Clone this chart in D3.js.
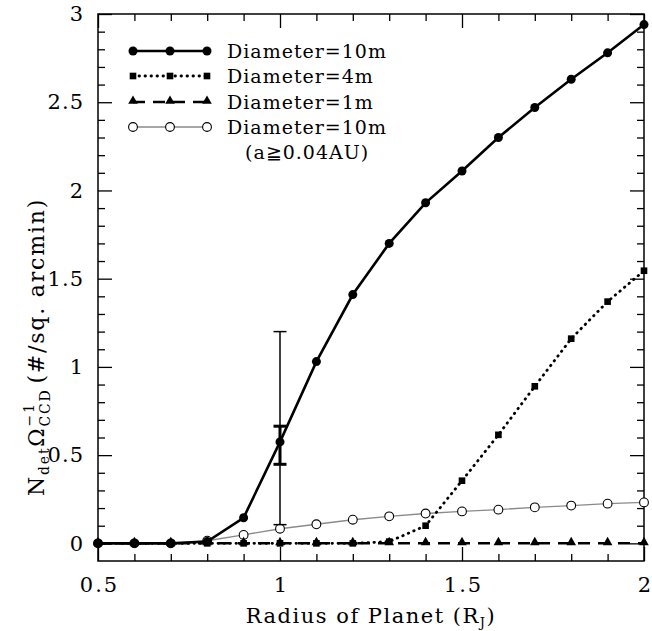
<!DOCTYPE html>
<html><head><meta charset="utf-8">
<script src="https://cdn.jsdelivr.net/npm/d3@7"></script>
<style>
html,body{margin:0;padding:0;background:#fff;}
svg text{font-family:"DejaVu Serif",serif;fill:#000;}
</style></head>
<body>
<svg id="chart" width="652" height="631"></svg>
<script>
const radius = [0.5,0.6,0.7,0.8,0.9,1.0,1.1,1.2,1.3,1.4,1.5,1.6,1.7,1.8,1.9,2.0];
const diam10 = [0,0,0,0.01,0.145,0.575,1.03,1.41,1.70,1.93,2.11,2.30,2.47,2.63,2.78,2.94];
const diam4 = [0,0,0,0,0,0,0,0,0.01,0.10,0.355,0.615,0.89,1.16,1.37,1.545];
const diam1 = [0,0,0,0,0,0,0,0,0,0,0,0,0,0,0,0];
const diam10a = [0,0,0,0.015,0.048,0.083,0.108,0.134,0.153,0.169,0.181,0.191,0.204,0.214,0.225,0.232];
const errX = [1.0, 1.0];
const errLow = [0.106, 0.448];
const errHigh = [1.20, 0.664];
const xTicks = [0.5, 1, 1.5, 2];
const yTicks = [0, 0.5, 1, 1.5, 2, 2.5, 3];
const legendLabels = ["Diameter=10m","Diameter=4m","Diameter=1m","Diameter=10m"];
const legendNote = "(a\u22670.04AU)";

const svg = d3.select("#chart");
const L = 98, R = 644, T = 14, B = 561;
const x = d3.scaleLinear().domain([0.5, 2]).range([L, R]);
const y = d3.scaleLinear().domain([-0.1, 3]).range([B, T]);

svg.append("rect").attr("x", L).attr("y", T).attr("width", R - L).attr("height", B - T)
  .attr("fill", "none").attr("stroke", "#000").attr("stroke-width", 1.5);

const isMajor = v => Math.abs(v * 2 - Math.round(v * 2)) < 1e-6;
const xMinor = d3.range(6, 20).map(d => d / 10).filter(v => !isMajor(v));
const yMinor = d3.range(0, 30).map(d => d / 10).filter(v => !isMajor(v));

function addAxis(axis, tr) {
  const g = svg.append("g").attr("transform", tr).call(axis);
  g.select(".domain").remove();
  g.selectAll("line").attr("stroke", "#000").attr("stroke-width", 1.3);
  return g;
}
const gx = addAxis(d3.axisBottom(x).tickValues(xTicks).tickSize(-14).tickPadding(16).tickFormat(d3.format("")), `translate(0,${B})`);
gx.selectAll("text").attr("font-size", 21).attr("font-family", "DejaVu Serif").attr("letter-spacing", 2).attr("dx", 1);
addAxis(d3.axisBottom(x).tickValues(xMinor).tickSize(-7).tickFormat(""), `translate(0,${B})`);
addAxis(d3.axisTop(x).tickValues(xTicks).tickSize(-14).tickFormat(""), `translate(0,${T})`);
addAxis(d3.axisTop(x).tickValues(xMinor).tickSize(-7).tickFormat(""), `translate(0,${T})`);
const gy = addAxis(d3.axisLeft(y).tickValues(yTicks).tickSize(-14).tickPadding(14).tickFormat(d3.format("")), `translate(${L},0)`);
gy.selectAll("text").attr("font-size", 21).attr("font-family", "DejaVu Serif").attr("letter-spacing", 1);
addAxis(d3.axisLeft(y).tickValues(yMinor).tickSize(-7).tickFormat(""), `translate(${L},0)`);
addAxis(d3.axisRight(y).tickValues(yTicks).tickSize(-14).tickFormat(""), `translate(${R},0)`);
addAxis(d3.axisRight(y).tickValues(yMinor).tickSize(-7).tickFormat(""), `translate(${R},0)`);

// x title
const xt = svg.append("text").attr("x", (L + R) / 2).attr("y", 623).attr("text-anchor", "middle")
  .attr("font-size", 21).attr("letter-spacing", 1.5);
xt.append("tspan").text("Radius of Planet (R");
xt.append("tspan").attr("font-size", 13).attr("dy", 4).text("J");
xt.append("tspan").attr("dy", -4).text(")");

// y title
const yt = svg.append("text").attr("transform", `translate(44,496) rotate(-90)`)
  .attr("text-anchor", "start").attr("font-size", 22).attr("letter-spacing", 1.8);
yt.append("tspan").text("N");
yt.append("tspan").attr("font-size", 14).attr("dy", 5).text("det");
yt.append("tspan").attr("dy", -5).text("\u03A9");
const sup = yt.append("tspan").attr("font-size", 14).attr("dy", -10).text("\u22121");
const supW = sup.node().getComputedTextLength();
yt.append("tspan").attr("font-size", 14).attr("dx", -supW).attr("dy", 16).text("CCD");
yt.append("tspan").attr("dy", -6).attr("dx", 5).text("(#/sq. arcmin)");

const line = d3.line().x(d => x(d[0])).y(d => y(d[1]));
const pts = vals => radius.map((r, i) => [r, vals[i]]);
const plot = svg.append("g");

const rC = 4.5, rO = 4.4;
const tri = d3.symbol().type(d3.symbolTriangle).size(40);
const sq = d3.symbol().type(d3.symbolSquare).size(44);

// open circles (a >= 0.04AU)
plot.append("path").datum(pts(diam10a)).attr("d", line).attr("fill", "none")
  .attr("stroke", "#8a8a8a").attr("stroke-width", 1.4);
plot.selectAll(".oc").data(pts(diam10a)).join("circle")
  .attr("cx", d => x(d[0])).attr("cy", d => y(d[1])).attr("r", rO)
  .attr("fill", "#fff").attr("stroke", "#000").attr("stroke-width", 1.1);

// 1m dashed triangles
plot.append("path").datum(pts(diam1)).attr("d", line).attr("fill", "none")
  .attr("stroke", "#000").attr("stroke-width", 2.5).attr("stroke-dasharray", "12,8");
plot.selectAll(".tr").data(pts(diam1)).join("path")
  .attr("transform", d => `translate(${x(d[0])},${y(d[1]) - 1})`).attr("d", tri).attr("fill", "#000");

// 4m dotted squares
plot.append("path").datum(pts(diam4)).attr("d", line).attr("fill", "none")
  .attr("stroke", "#000").attr("stroke-width", 2.8).attr("stroke-dasharray", "0.5,5.5").attr("stroke-linecap", "round");
plot.selectAll(".sq").data(pts(diam4)).join("path")
  .attr("transform", d => `translate(${x(d[0])},${y(d[1])})`).attr("d", sq).attr("fill", "#000");

// 10m solid circles
plot.append("path").datum(pts(diam10)).attr("d", line).attr("fill", "none")
  .attr("stroke", "#000").attr("stroke-width", 2.6);
plot.selectAll(".fc").data(pts(diam10)).join("circle")
  .attr("cx", d => x(d[0])).attr("cy", d => y(d[1])).attr("r", rC).attr("fill", "#000");

// error bars
const ew = [1.5, 3.0];
errX.forEach((ex, i) => {
  const g = plot.append("g").attr("stroke", "#000").attr("stroke-width", ew[i]);
  const cx = x(ex);
  g.append("line").attr("x1", cx).attr("x2", cx).attr("y1", y(errLow[i])).attr("y2", y(errHigh[i]));
  [errLow[i], errHigh[i]].forEach(v => {
    g.append("line").attr("x1", cx - 6.5).attr("x2", cx + 6.5).attr("y1", y(v)).attr("y2", y(v));
  });
});

// legend
const legY = [51, 76, 102, 127];
const lx0 = 133, lx1 = 207;
const lg = svg.append("g");
const legDefs = [
  {dash: null, w: 2.6, col: "#000", mark: "fc"},
  {dash: "0.5,5.5", w: 2.8, col: "#000", mark: "sq"},
  {dash: "12,8", w: 2.5, col: "#000", mark: "tr"},
  {dash: null, w: 1.4, col: "#8a8a8a", mark: "oc"}
];
legDefs.forEach((d, i) => {
  const yy = legY[i];
  const ln = lg.append("line").attr("x1", lx0).attr("x2", lx1).attr("y1", yy).attr("y2", yy)
    .attr("stroke", d.col).attr("stroke-width", d.w);
  if (d.dash) ln.attr("stroke-dasharray", d.dash).attr("stroke-linecap", d.mark === "sq" ? "round" : "butt");
  [lx0, (lx0 + lx1) / 2, lx1].forEach(mx => {
    if (d.mark === "fc") lg.append("circle").attr("cx", mx).attr("cy", yy).attr("r", rC).attr("fill", "#000");
    else if (d.mark === "sq") lg.append("path").attr("transform", `translate(${mx},${yy})`).attr("d", sq).attr("fill", "#000");
    else if (d.mark === "tr") lg.append("path").attr("transform", `translate(${mx},${yy - 1})`).attr("d", tri).attr("fill", "#000");
    else lg.append("circle").attr("cx", mx).attr("cy", yy).attr("r", rO).attr("fill", "#fff").attr("stroke", "#000").attr("stroke-width", 1.1);
  });
  lg.append("text").attr("x", 227).attr("y", yy + 7).attr("font-size", 19).attr("letter-spacing", 1).text(legendLabels[i]);
});
lg.append("text").attr("x", 245).attr("y", 159).attr("font-size", 19).attr("letter-spacing", 1).text(legendNote);
</script>
</body></html>
